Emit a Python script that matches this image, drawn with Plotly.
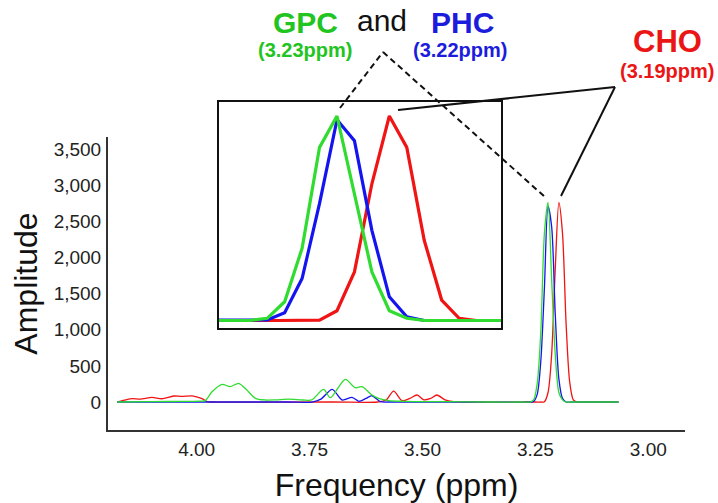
import plotly.graph_objects as go

# ---------------- data ----------------
green_ppm = [4.176, 4.100, 4.020, 3.990, 3.981, 3.966, 3.944, 3.926, 3.907, 3.889, 3.870,
             3.848, 3.825, 3.796, 3.765, 3.745, 3.719, 3.704, 3.671, 3.649, 3.634, 3.612,
             3.597, 3.575, 3.540, 3.450, 3.350, 3.280, 3.262, 3.254, 3.246, 3.238, 3.230,
             3.222, 3.214, 3.206, 3.198, 3.190, 3.182, 3.170, 3.066]
green_amp = [0, 5, 10, 12, 20, 142, 245, 212, 259, 166, 51,
             28, 30, 40, 28, 30, 175, 60, 314, 198, 212, 97,
             51, 20, 10, 5, 0, 0, 0, 30, 253, 975, 2337,
             2760, 1700, 656, 132, 30, 0, 0, 0]

blue_ppm = [4.176, 3.800, 3.745, 3.725, 3.700, 3.678, 3.656, 3.641, 3.625, 3.612, 3.593,
            3.575, 3.400, 3.262, 3.254, 3.246, 3.238, 3.230, 3.222, 3.214, 3.206, 3.198,
            3.190, 3.182, 3.170, 3.066]
blue_amp = [0, 0, 0, 40, 175, 28, 65, 10, 50, 87, 5,
            0, 0, 0, 7, 105, 567, 1580, 2710, 2427, 1217, 320,
            51, 0, 0, 0]

red_ppm = [4.176, 4.160, 4.143, 4.125, 4.099, 4.077, 4.051, 4.033, 4.007, 3.988, 3.977,
           3.960, 3.700, 3.600, 3.580, 3.564, 3.545, 3.528, 3.512, 3.497, 3.482, 3.468,
           3.450, 3.431, 3.400, 3.250, 3.238, 3.230, 3.222, 3.214, 3.206, 3.198, 3.190,
           3.182, 3.174, 3.166, 3.158, 3.140, 3.066]
red_amp = [0, 25, 46, 40, 65, 45, 83, 78, 83, 46, 5,
           0, 0, 0, 30, 152, 18, 50, 97, 30, 50, 97,
           30, 5, 0, 0, 0, 5, 132, 656, 1845, 2760, 2337,
           1083, 276, 30, 0, 0, 0]

x_tick_vals = [4.00, 3.75, 3.50, 3.25, 3.00]
y_tick_vals = [0, 500, 1000, 1500, 2000, 2500, 3000, 3500]

# ---------------- styling ----------------
W, H = 718, 503
FONT = "Liberation Sans, Arial, Helvetica, sans-serif"
LINE_GREEN = "#2fdc2f"
LINE_BLUE = "#1414f0"
LINE_RED = "#f01414"
TXT_GREEN = "#22c422"
TXT_BLUE = "#1c1cdc"
TXT_RED = "#ea1616"


def px(x):
    return x / W


def py(y):
    return (H - y) / H


series = [("CHO", red_ppm, red_amp, LINE_RED),
          ("PHC", blue_ppm, blue_amp, LINE_BLUE),
          ("GPC", green_ppm, green_amp, LINE_GREEN)]

fig = go.Figure()
for name, xs, ys, col in series:
    fig.add_trace(go.Scatter(x=xs, y=ys, mode="lines", name=name,
                             line=dict(color=col, width=1.3, shape="spline", smoothing=0.8),
                             xaxis="x", yaxis="y", showlegend=False))
for name, xs, ys, col in series:
    fig.add_trace(go.Scatter(x=xs, y=ys, mode="lines", name=name + " (zoom)",
                             line=dict(color=col, width=3.2),
                             xaxis="x2", yaxis="y2", showlegend=False))

fig.update_layout(
    width=W, height=H,
    margin=dict(l=0, r=0, t=0, b=0),
    paper_bgcolor="white", plot_bgcolor="rgba(0,0,0,0)",
    font=dict(family=FONT, color="#222"),
    xaxis=dict(domain=[px(108), px(685)], range=[4.1964, 2.9187], anchor="y",
               showline=True, linecolor="#333", linewidth=2, showgrid=False, zeroline=False,
               ticks="", tickvals=x_tick_vals, tickformat=".2f",
               tickfont=dict(size=19, color="#222"), ticklabelstandoff=1,
               title=dict(text="Frequency (ppm)", font=dict(size=32, color="#111"), standoff=22)),
    yaxis=dict(domain=[py(430), py(137)], range=[-387, 3666], anchor="x",
               showline=True, linecolor="#333", linewidth=2, showgrid=False, zeroline=False,
               ticks="", tickvals=y_tick_vals, tickformat=",d",
               tickfont=dict(size=19, color="#222"), ticklabelstandoff=1,
               title=dict(text="Amplitude", font=dict(size=32, color="#111"), standoff=6)),
    xaxis2=dict(domain=[px(219), px(501)], range=[3.2761, 3.1468], anchor="y2",
                showline=True, mirror=True, linecolor="#111", linewidth=1.5,
                showgrid=False, zeroline=False, showticklabels=False, ticks=""),
    yaxis2=dict(domain=[py(328), py(102)], range=[-101, 2949], anchor="x2",
                showline=True, mirror=True, linecolor="#111", linewidth=1.5,
                showgrid=False, zeroline=False, showticklabels=False, ticks=""),
)

ann = [
    ("<b>GPC</b>", 305, 22, 30, TXT_GREEN),
    ("and", 382.5, 21, 30, "#111"),
    ("<b>PHC</b>", 462.5, 22, 30, TXT_BLUE),
    ("<b>(3.23ppm)</b>", 305, 50, 20, TXT_GREEN),
    ("<b>(3.22ppm)</b>", 460, 50, 20, TXT_BLUE),
    ("<b>CHO</b>", 667, 41, 31, TXT_RED),
    ("<b>(3.19ppm)</b>", 667, 71, 20, TXT_RED),
]
for text, x, y, size, col in ann:
    fig.add_annotation(text=text, x=px(x), y=py(y), xref="paper", yref="paper",
                       xanchor="center", yanchor="middle", showarrow=False,
                       font=dict(size=size, color=col, family=FONT))

# leader lines
dashed = [((340, 108), (383, 52)), ((383, 52), (545, 197))]
solid = [((398, 110), (615, 87)), ((615, 87), (561, 196))]
for (a, b) in dashed:
    fig.add_shape(type="line", xref="paper", yref="paper",
                  x0=px(a[0]), y0=py(a[1]), x1=px(b[0]), y1=py(b[1]),
                  line=dict(color="#111", width=2, dash="6px,4px"))
for (a, b) in solid:
    fig.add_shape(type="line", xref="paper", yref="paper",
                  x0=px(a[0]), y0=py(a[1]), x1=px(b[0]), y1=py(b[1]),
                  line=dict(color="#111", width=2))

fig.write_html("out.html",
               config={"displayModeBar": False},
               post_script="document.body.style.margin='0px';document.body.style.overflow='hidden';")
